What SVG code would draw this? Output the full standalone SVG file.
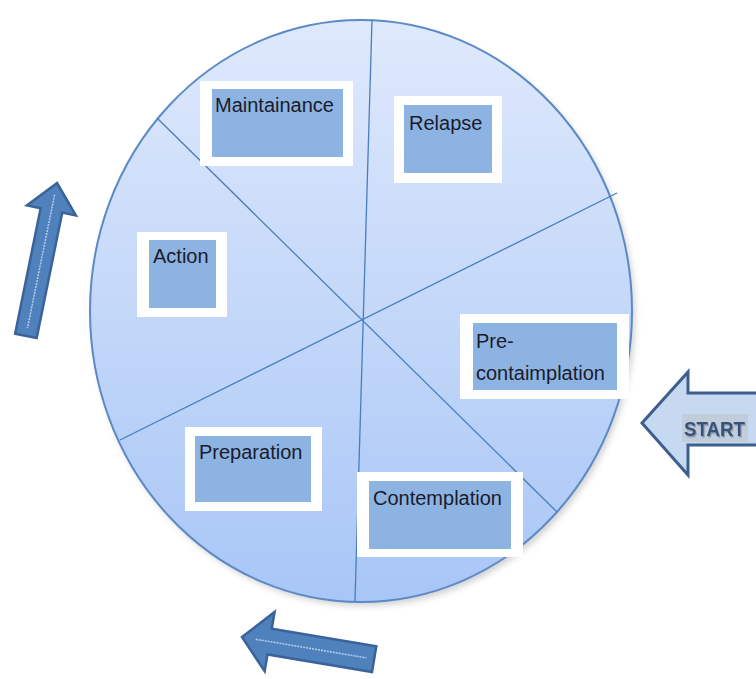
<svg xmlns="http://www.w3.org/2000/svg" width="756" height="679" viewBox="0 0 756 679">
<style>
.outer{fill:#ffffff}
.inner{fill:#8db3e2}
.lbl{font-family:"Liberation Sans",Arial,sans-serif;font-size:20px;fill:#1b1b2a}
.div{stroke:#4a7ebb;stroke-width:1.3;fill:none}
.darr{fill:#4f81bd;stroke:#3a6399;stroke-width:2.5;stroke-linejoin:miter}
.hl{stroke:#b8cdea;stroke-width:1.5;stroke-dasharray:2 1;fill:none}
</style>
<defs>
<linearGradient id="g" x1="0" y1="0" x2="0" y2="1">
<stop offset="0" stop-color="#dfe9fc"/>
<stop offset="1" stop-color="#a8c6f6"/>
</linearGradient>
<filter id="sh" x="-10%" y="-10%" width="120%" height="120%">
<feGaussianBlur stdDeviation="3"/>
</filter>
<filter id="ts" x="-10%" y="-20%" width="120%" height="150%">
<feDropShadow dx="1" dy="1.5" stdDeviation="0.6" flood-color="#8a96a6"/>
</filter>
</defs>
<g id="wheel">
<ellipse cx="364" cy="315" rx="271" ry="291" fill="#9a9a9a" opacity="0.45" filter="url(#sh)"/>
<ellipse cx="361" cy="311" rx="271" ry="291" fill="url(#g)" stroke="#5b8ac6" stroke-width="2"/>
</g>
<g id="connectors">
<line class="div" x1="372" y1="20" x2="355" y2="601"/>
<line class="div" x1="157" y1="118" x2="557" y2="512"/>
<line class="div" x1="120" y1="440" x2="617" y2="193"/>
</g>
<g id="maintainance">
<rect class="outer" x="200" y="81" width="153" height="85"/>
<rect class="inner" x="212" y="89" width="131" height="68"/>
<text class="lbl" x="215" y="112">Maintainance</text>
</g>
<g id="relapse">
<rect class="outer" x="394" y="96" width="108" height="87"/>
<rect class="inner" x="404" y="105" width="88" height="68"/>
<text class="lbl" x="409" y="130">Relapse</text>
</g>
<g id="action">
<rect class="outer" x="137" y="232" width="90" height="85"/>
<rect class="inner" x="149" y="240" width="67" height="68"/>
<text class="lbl" x="153" y="263">Action</text>
</g>
<g id="precontemplation">
<rect class="outer" x="460" y="314" width="169" height="85"/>
<rect class="inner" x="473" y="323" width="144" height="67"/>
<text class="lbl" x="476" y="348">Pre-</text>
<text class="lbl" x="476" y="380">contaimplation</text>
</g>
<g id="preparation">
<rect class="outer" x="185" y="427" width="137" height="84"/>
<rect class="inner" x="195" y="436" width="116" height="66"/>
<text class="lbl" x="199" y="459">Preparation</text>
</g>
<g id="contemplation">
<rect class="outer" x="357" y="472" width="166" height="85"/>
<rect class="inner" x="369" y="481" width="142" height="68"/>
<text class="lbl" x="373" y="505">Contemplation</text>
</g>
<g id="arrow-up" transform="translate(57,183) rotate(11.5)">
<polygon class="darr" points="0,0 25,28 11,28 11,156 -11,156 -11,28 -25,28"/>
<line class="hl" x1="0" y1="12" x2="0" y2="148"/>
</g>
<g id="arrow-left" transform="translate(242,637) rotate(9.5)">
<polygon class="darr" points="0,0 28,-30 28,-13 134,-13 134,13 28,13 28,30"/>
<line class="hl" x1="14" y1="0" x2="126" y2="0"/>
</g>
<g id="start">
<polygon points="642,423 688,372 688,393 760,393 760,445 688,445 688,475" fill="#c6d9f1" stroke="#3d5f8f" stroke-width="3" stroke-linejoin="miter"/>
<rect x="682" y="414" width="66" height="28" fill="#c2cddc"/>
<text x="684" y="436" font-family="'Liberation Sans',Arial,sans-serif" font-weight="bold" font-size="21" fill="#35527a" textLength="61" lengthAdjust="spacingAndGlyphs" filter="url(#ts)">START</text>
</g>
</svg>
